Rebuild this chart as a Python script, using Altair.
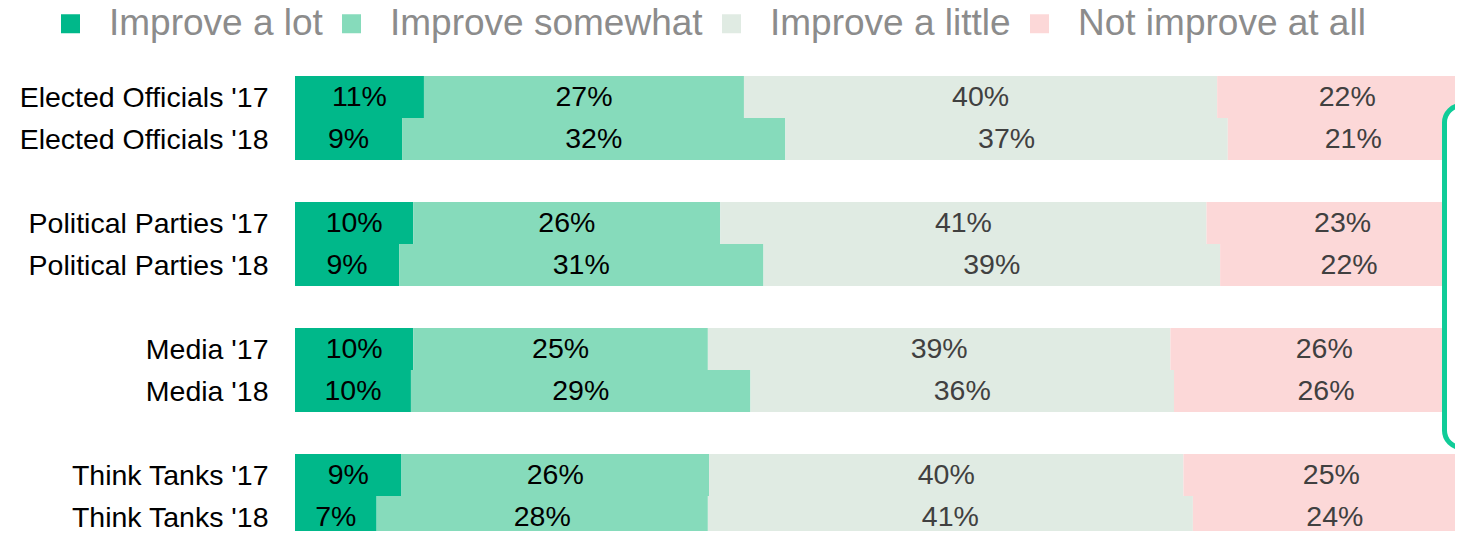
import json
import altair as alt
import pandas as pd

# ---- data ----
categories = [
    "Elected Officials '17", "Elected Officials '18",
    "Political Parties '17", "Political Parties '18",
    "Media '17", "Media '18",
    "Think Tanks '17", "Think Tanks '18",
]
row_slots = [0, 1, 3, 4, 6, 7, 9, 10]
series = ["Improve a lot", "Improve somewhat", "Improve a little", "Not improve at all"]
improve_lot = [10.9, 9.05, 10.0, 8.8, 10.0, 9.8, 9.0, 6.9]
improve_somewhat = [27.05, 32.4, 25.95, 30.8, 24.9, 28.7, 26.0, 28.0]
improve_little = [40.0, 37.4, 41.1, 38.6, 39.1, 35.8, 40.1, 41.0]
not_improve = [22.0, 21.2, 23.0, 21.8, 26.0, 25.7, 25.0, 24.0]
colors = ["#00b88a", "#86dbbb", "#e0ebe3", "#fcd8d8"]

FONT = "Liberation Sans, Arial, sans-serif"
ROW_PX = 42.0
PAD_TOP = 68
W, H = 1160, 523 - PAD_TOP

recs = []
for i, cat in enumerate(categories):
    vals = [improve_lot[i], improve_somewhat[i], improve_little[i], not_improve[i]]
    start = 0.0
    for j, (s, v) in enumerate(zip(series, vals)):
        recs.append({
            "category": cat, "series": s, "order": j, "value": v,
            "start": start, "end": start + v, "mid": start + v / 2,
            "row": row_slots[i], "row_end": row_slots[i] + 1, "row_mid": row_slots[i] + 0.5,
            "label": f"{round(v):d}%",
            "label_color": "#000000" if j < 2 else "#404040",
        })
        start += v
df = pd.DataFrame(recs)

xscale = alt.Scale(domain=[0, W / 11.83], nice=False, zero=False)
yscale = alt.Scale(domain=[0, H / ROW_PX], nice=False, zero=False, reverse=True)

slot_labels = [""] * 11
for r, c in zip(row_slots, categories):
    slot_labels[r] = c
label_expr = json.dumps(slot_labels) + "[floor(datum.value)]"

y_axis = alt.Axis(values=[r + 0.5 for r in row_slots], labelExpr=label_expr,
                  domain=False, ticks=False, grid=False, labelPadding=27,
                  labelFontSize=28.5, labelFont=FONT, labelColor="#000000",
                  labelBaseline="middle", labelLimit=1000, title=None)

base = alt.Chart(df)

bars = base.mark_bar(clip=True, cornerRadius=0).encode(
    x=alt.X("start:Q", scale=xscale, axis=None),
    x2="end:Q",
    y=alt.Y("row:Q", scale=yscale, axis=y_axis),
    y2="row_end:Q",
    color=alt.Color("series:N", scale=alt.Scale(domain=series, range=colors), sort=series,
                    legend=alt.Legend(orient="none", legendX=-243, legendY=-71,
                                      direction="horizontal", title=None,
                                      symbolType="square", symbolSize=361,
                                      symbolStrokeWidth=0, symbolOpacity=1,
                                      labelFontSize=37, labelFont=FONT,
                                      labelColor="#8c8c8c", labelOffset=20,
                                      labelLimit=1000, columnPadding=10, padding=0)),
)

bracket = alt.Chart(pd.DataFrame({"a": [0]})).mark_rect(
    clip=True, fill="#ffffff", stroke="#10cc98", strokeWidth=5, cornerRadius=17
).encode(
    x=alt.value(1149.5), x2=alt.value(1240),
    y=alt.value(29.5), y2=alt.value(371.5),
)

texts = base.mark_text(font=FONT, fontSize=28.5, align="center", baseline="middle").encode(
    x=alt.X("mid:Q", scale=xscale, axis=None),
    y=alt.Y("row_mid:Q", scale=yscale, axis=y_axis),
    text="label:N",
    color=alt.Color("label_color:N", scale=None),
)

chart = alt.layer(bars, bracket, texts).properties(
    width=W, height=H,
    background="#ffffff",
    padding={"left": 287, "top": PAD_TOP, "right": 0, "bottom": 0},
    autosize=alt.AutoSizeParams(type="none"),
).configure_view(strokeWidth=0, stroke="transparent").configure_axis(
    domain=False, grid=False, ticks=False
)

chart.save("out.html", embed_options={"renderer": "svg", "actions": False})
